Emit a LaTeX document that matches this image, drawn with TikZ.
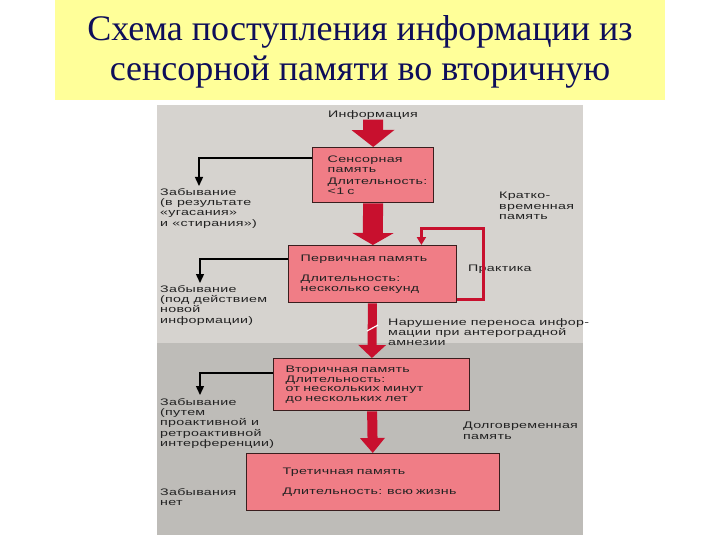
\documentclass[tikz,border=0pt]{standalone}
\usepackage{fontspec}
\setmainfont{Liberation Serif}
\newfontfamily\schemefont[FakeStretch=1.5,LetterSpace=3]{Liberation Sans}
\usetikzlibrary{arrows.meta,positioning}
\definecolor{titlebg}{HTML}{FFFF99}
\definecolor{titleink}{HTML}{0E0E5A}
\definecolor{panelhi}{HTML}{D6D3CF}
\definecolor{panello}{HTML}{BEBCB8}
\definecolor{boxfill}{HTML}{F07D86}
\definecolor{boxline}{HTML}{3A1E1E}
\definecolor{flowred}{HTML}{C8102E}
\definecolor{inkgrey}{HTML}{222222}

\tikzset{
  membox/.style={draw=boxline, line width=1.4pt, fill=boxfill, anchor=north west, align=left,
    inner ysep=0pt, inner xsep=12pt, text=inkgrey, font=\schemefont\fontsize{9.5}{9.6}\selectfont},
  note/.style={anchor=north west, align=left, inner sep=0pt, text=inkgrey,
    font=\schemefont\fontsize{9.5}{10.4}\selectfont},
  forget/.style={draw=black, line width=1.4pt, -{Triangle[width=8pt,length=9pt]}},
  practice/.style={draw=flowred, line width=2.5pt, -{Triangle[width=9pt,length=8pt]}},
}

\begin{document}
\begin{tikzpicture}[x=1pt,y=-1pt]
    \useasboundingbox (0,0) rectangle (720,540);

    % background
    \fill[titlebg] (55,0) rectangle (665,100);
    \fill[panelhi] (157,105) rectangle (583,343);
    \fill[panello] (157,343) rectangle (583,535);

    %nodes
    \node[align=center, text=titleink, font=\fontsize{36}{40}\selectfont] (title) at (360,52)
        {Схема поступления информации из\\сенсорной памяти во вторичную};
    \node[note, anchor=center] (info) at (373,115) {Информация};
    \node[membox, inner xsep=15pt, text width=91pt, minimum width=121pt, minimum height=55pt] (sensory) at (312,147)
        {Сенсорная\\память\\[3pt]Длительность:\\<1 с};
    \node[membox, text width=144pt, minimum width=168pt, minimum height=57pt] (primary) at (288,245)
        {Первичная память\\[10pt]Длительность:\\несколько секунд};
    \node[membox, text width=172pt, minimum width=196pt, minimum height=52pt] (secondary) at (273,358)
        {Вторичная память\\Длительность:\\от нескольких минут\\до нескольких лет};
    \node[membox, inner xsep=36pt, text width=181pt, minimum width=253pt, minimum height=57pt] (tertiary) at (246,453)
        {Третичная память\\[10pt]Длительность: всю жизнь};

    \node[note] (forget1) at (160,188) {Забывание\\(в результате\\«угасания»\\и «стирания»)};
    \node[note] (forget2) at (160,285) {Забывание\\(под действием\\новой\\информации)};
    \node[note] (forget3) at (160,398) {Забывание\\(путем\\проактивной и\\ретроактивной\\интерференции)};
    \node[note] (forget4) at (160,488) {Забывания\\нет};
    \node[note] (shortterm) at (499,192) {Кратко-\\временная\\память};
    \node[note] (practicelbl) at (468,265) {Практика};
    \node[note] (amnesia) at (388,318) {Нарушение переноса инфор-\\мации при антероградной\\амнезии};
    \node[note] (longterm) at (463,422) {Долговременная\\память};

    % edges
    \draw[flowred, line width=20pt, -{Triangle[width=42pt,length=17pt]}] (info.south) -- (sensory.north);
    \draw[flowred, line width=20pt, -{Triangle[width=41pt,length=12pt]}] (sensory) -- (primary);
    \draw[flowred, line width=9pt, -{Triangle[width=27pt,length=13pt]}] (primary) -- (secondary);
    \draw[white, line width=1.2pt] (367,331) -- (378,325);
    \draw[flowred, line width=10pt, -{Triangle[width=24pt,length=15pt]}] (secondary) -- (tertiary);

    \draw[practice] ([yshift=4pt]primary.south east) -- ++(26,0) -- ++(0,-71) -| ([xshift=-36pt]primary.north east);

    \draw[forget] ([yshift=-11pt]sensory.north west) -| ([xshift=39pt,yshift=2pt]forget1.north west);
    \draw[forget] ([yshift=-14pt]primary.north west) -| ([xshift=40pt,yshift=2pt]forget2.north west);
    \draw[forget] ([yshift=-15pt]secondary.north west) -| ([xshift=40pt,yshift=3pt]forget3.north west);

\end{tikzpicture}
\end{document}
